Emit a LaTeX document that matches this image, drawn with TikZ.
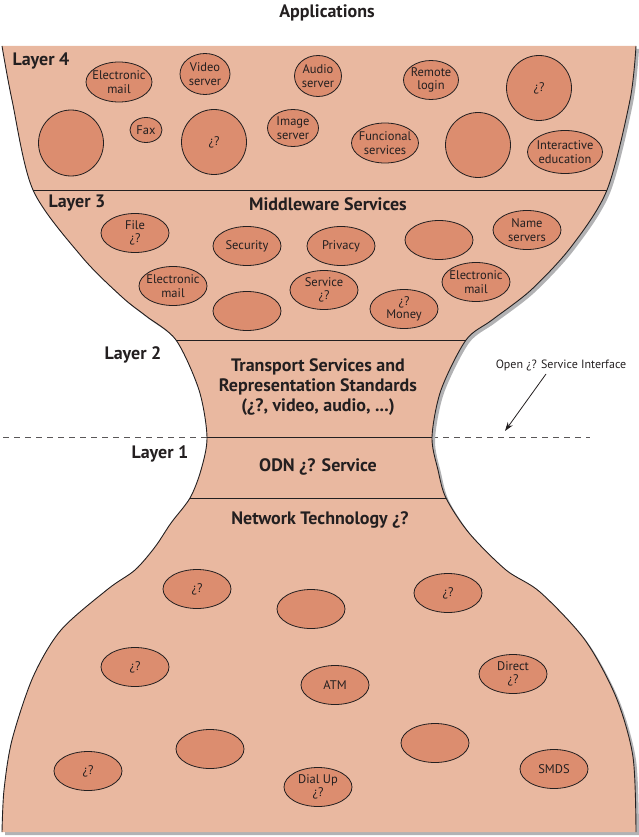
\documentclass[tikz,border=0pt]{standalone}
\usepackage{fontspec}
\setmainfont{PT Sans}
\usetikzlibrary{shapes.geometric,arrows.meta}
\definecolor{glassfill}{RGB}{233,184,160}
\definecolor{blobfill}{RGB}{220,141,111}
\definecolor{shadegrey}{RGB}{178,178,180}
\definecolor{ink}{RGB}{35,31,32}
\begin{document}
\begin{tikzpicture}[x=1pt,y=-1pt,
  blob/.style={ellipse,draw=ink,fill=blobfill,line width=0.8pt,inner sep=-5pt,align=center,text=ink,font=\fontsize{12.5}{13.5}\selectfont,minimum width=68pt,minimum height=39pt},
  sz/.style 2 args={minimum width=#1pt,minimum height=#2pt},
  head/.style={text=ink,align=center,font=\fontsize{18}{20}\selectfont\bfseries},
  side/.style={draw=ink,line width=0.9pt}]
\useasboundingbox (0,0) rectangle (638,837);
\coordinate (dl) at (3,437);
\coordinate (dr) at (590,437);
\draw[ink!75,line width=0.9pt,dash pattern=on 6pt off 5pt] (dl) -- (dr);
\fill[glassfill,preaction={fill=shadegrey,transform canvas={shift={(3,3)}}}]
  plot[smooth] coordinates {(2,46) (12,100) (33,190) (82,257) (122,297) (146,316) (176,340) (199,390) (207,437) (201,470) (190,498) (171,523) (155,547) (135,570) (108,589) (61,630) (33,677) (12,740) (4,790) (2,832)}
  -- plot[smooth] coordinates {(636,832) (633,757) (616,697) (585,640) (540,592) (506,570) (469,533) (446,498) (438,470) (432,437) (441,390) (466,340) (492,320) (531,290) (571,247) (607,190) (630,100) (636,46)} -- cycle;
\draw[side] plot[smooth] coordinates {(2,46) (12,100) (33,190) (82,257) (122,297) (146,316) (176,340) (199,390) (207,437) (201,470) (190,498) (171,523) (155,547) (135,570) (108,589) (61,630) (33,677) (12,740) (4,790) (2,832)};
\draw[side] plot[smooth] coordinates {(636,832) (633,757) (616,697) (585,640) (540,592) (506,570) (469,533) (446,498) (438,470) (432,437) (441,390) (466,340) (492,320) (531,290) (571,247) (607,190) (630,100) (636,46)};
\draw[side] (33,190) -- (607,190);
\draw[side] (176,340) -- (466,340);
\draw[side] (207,437) -- (432,437);
\draw[side] (190,498) -- (446,498);

\node[head] (apps) at (327,13) {Applications};
\node[head,anchor=west] (lay4) at (9,61) {Layer 4};
\node[head,anchor=west] (lay3) at (45,203) {Layer 3};
\node[head] (lay2) at (133,355) {Layer 2};
\node[head] (lay1) at (160,454) {Layer 1};
\node[head] (mws) at (328,204) {Middleware Services};
\node[head] (tsrs) at (318,387) {Transport Services and\\Representation Standards\\(¿?, video, audio, ...)};
\node[head] (odn) at (318,467) {ODN ¿? Service};
\node[head] (ntech) at (320,520) {Network Technology ¿?};
\node[text=ink,font=\fontsize{12}{14}\selectfont] (osi) at (561,365) {Open ¿? Service Interface};
\coordinate (ositip) at (505,431);
\draw[ink,line width=0.8pt,-{Stealth[length=9pt,width=6pt]}] (546,374) -- (ositip);

\node[blob,sz={66}{40}] (app1) at (119,82) {Electronic\\mail};
\node[blob,sz={50}{41}] (app2) at (205,74) {Video\\server};
\node[blob,sz={47}{41}] (app3) at (318,76) {Audio\\server};
\node[blob,sz={55}{39}] (app4) at (431,80) {Remote\\login};
\node[blob,sz={65}{65}] (app5) at (539,88) {¿?};
\node[blob,sz={65}{66}] (app6) at (71,143) {};
\node[blob,sz={32}{25}] (app7) at (146,130) {Fax};
\node[blob,sz={65}{65}] (app8) at (214,142) {¿?};
\node[blob,sz={51}{37}] (app9) at (293,128) {Image\\server};
\node[blob,sz={67}{40}] (app10) at (385,143) {Funcional\\services};
\node[blob,sz={65}{65}] (app11) at (478,145) {};
\node[blob,sz={75}{43}] (app12) at (565,152) {Interactive\\education};

\node[blob] (mid1) at (135,233) {File\\¿?};
\node[blob] (mid2) at (247,246) {Security};
\node[blob] (mid3) at (341,246) {Privacy};
\node[blob] (mid4) at (439,240) {};
\node[blob] (mid5) at (527,230) {Name\\servers};
\node[blob] (mid6) at (173,286) {Electronic\\mail};
\node[blob] (mid7) at (247,311) {};
\node[blob] (mid8) at (324,290) {Service\\¿?};
\node[blob] (mid9) at (404,309) {¿?\\Money};
\node[blob] (mid10) at (476,282) {Electronic\\mail};

\node[blob] (net1) at (197,589) {¿?};
\node[blob] (net2) at (311,609) {};
\node[blob] (net3) at (448,593) {¿?};
\node[blob] (net4) at (135,667) {¿?};
\node[blob] (net5) at (335,685) {ATM};
\node[blob] (net6) at (513,674) {Direct\\¿?};
\node[blob] (net7) at (88,771) {¿?};
\node[blob] (net8) at (210,749) {};
\node[blob] (net9) at (318,787) {Dial Up\\¿?};
\node[blob] (net10) at (435,743) {};
\node[blob] (net11) at (554,769) {SMDS};
\end{tikzpicture}
\end{document}
